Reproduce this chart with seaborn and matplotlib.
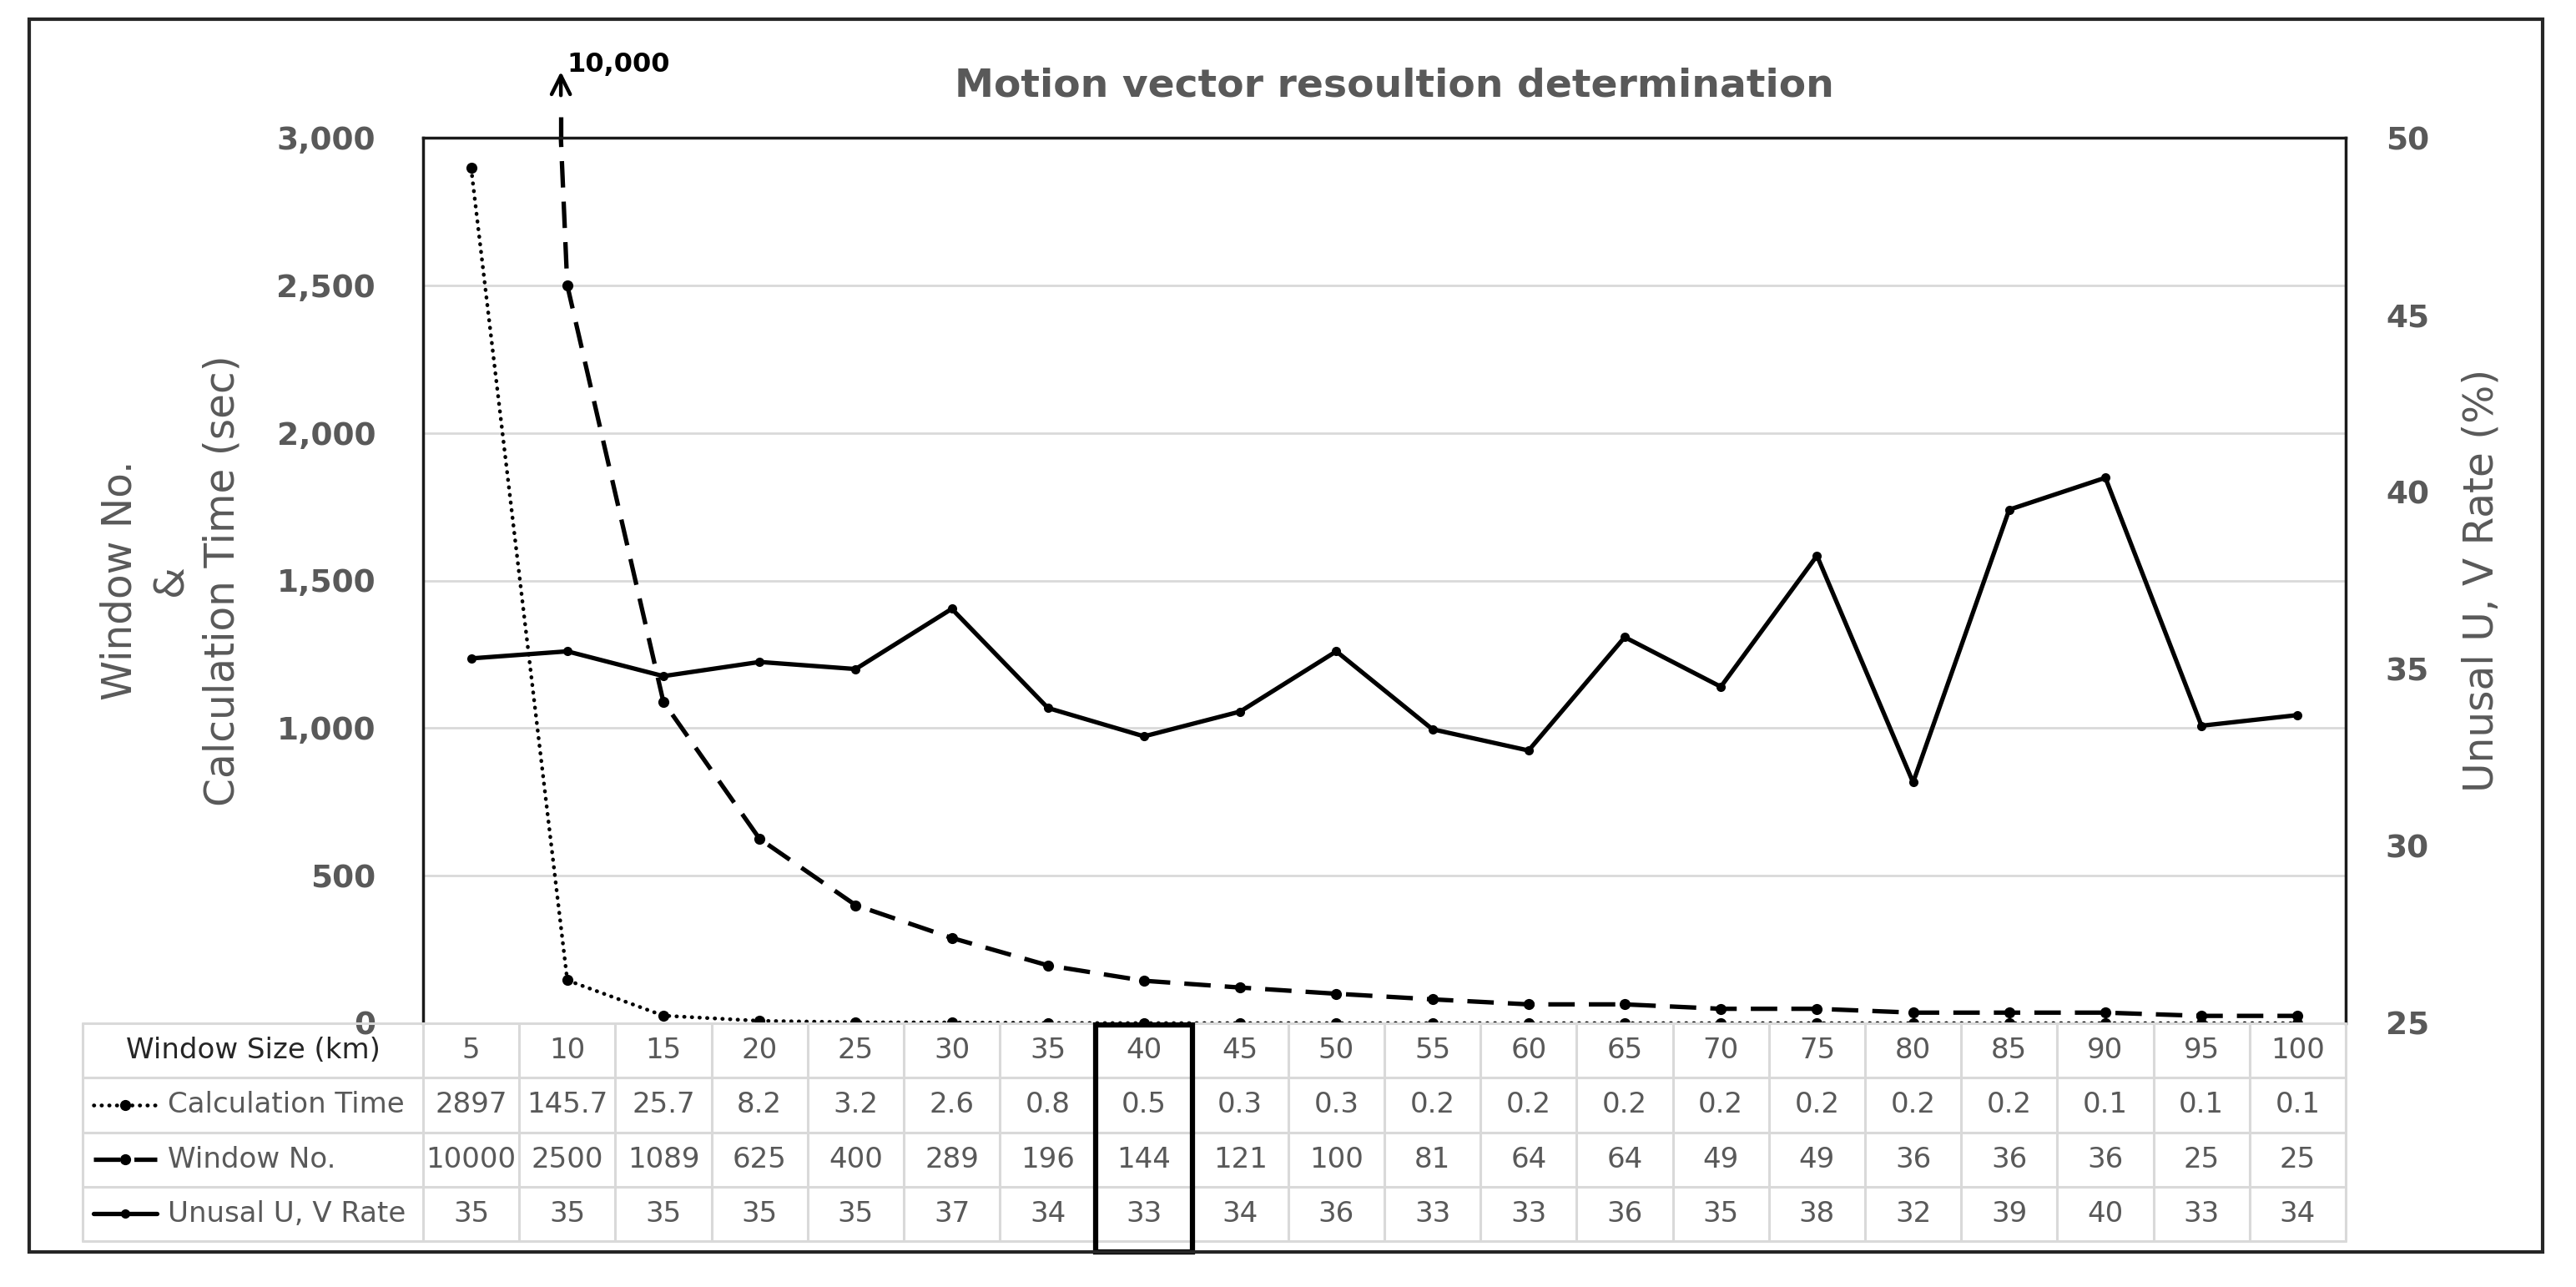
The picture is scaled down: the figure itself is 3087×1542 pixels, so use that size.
import numpy as np
import pandas as pd
import matplotlib
matplotlib.use("Agg")
import matplotlib.pyplot as plt
from matplotlib.patches import Rectangle
import seaborn as sns

# --- data ---
window_size = [5, 10, 15, 20, 25, 30, 35, 40, 45, 50, 55, 60, 65, 70, 75, 80, 85, 90, 95, 100]
calc_time = [2897, 145.7, 25.7, 8.2, 3.2, 2.6, 0.8, 0.5, 0.3, 0.3, 0.2, 0.2, 0.2, 0.2, 0.2, 0.2, 0.2, 0.1, 0.1, 0.1]
window_no = [10000, 2500, 1089, 625, 400, 289, 196, 144, 121, 100, 81, 64, 64, 49, 49, 36, 36, 36, 25, 25]
# unusual rate as drawn in the plot (the table shows it rounded)
unusual_rate = [35.3, 35.5, 34.8, 35.2, 35.0, 36.7, 33.9, 33.1, 33.8, 35.5,
                33.3, 32.7, 35.9, 34.5, 38.2, 31.8, 39.5, 40.4, 33.4, 33.7]
rate_table = [35, 35, 35, 35, 35, 37, 34, 33, 34, 36, 33, 33, 36, 35, 38, 32, 39, 40, 33, 34]
left_ticks = [0, 500, 1000, 1500, 2000, 2500, 3000]
right_ticks = [25, 30, 35, 40, 45, 50]
row_names = ["Window Size (km)", "Calculation Time", "Window No.", "Unusal U, V Rate"]
selected_size = 40

# --- style ---
sns.set_theme(style="white")
plt.rcParams["font.family"] = ["DejaVu Sans"]
GRAY = "#595959"
GRID = "#d9d9d9"
W, H = 3087, 1542
PLOT_L, PLOT_R, PLOT_T, PLOT_B = 507, 2811, 165, 1226
TAB_L, TAB_B = 99, 1487
PX_PER_UNIT = (PLOT_R - PLOT_L) / 100  # x units are km


def fx(px):
    return px / W


def fy(py):
    return 1 - py / H


calc_style = dict(color="black", linewidth=3.3, linestyle=(0, (0.1, 1.9)),
                  dash_capstyle="round", marker="o", markersize=9.5, markeredgewidth=0)
win_style = dict(color="black", linewidth=3.8, linestyle=(0, (6.0, 3.2)),
                 marker="o", markersize=9.5, markeredgewidth=0)
rate_style = dict(color="black", linewidth=3.8, linestyle="-",
                  marker="o", markersize=8, markeredgewidth=0)

df = pd.DataFrame({"size": window_size, "calc": calc_time,
                   "win": window_no, "rate": unusual_rate})

fig = plt.figure(figsize=(W / 100, H / 100), dpi=100)
fig.patch.set_facecolor("white")

# --- main plot area ---
ax = fig.add_axes([fx(PLOT_L), fy(PLOT_B), fx(PLOT_R) - fx(PLOT_L), fy(PLOT_T) - fy(PLOT_B)])
sns.lineplot(data=df, x="size", y="calc", ax=ax, **calc_style)
sns.lineplot(data=df, x="size", y="win", ax=ax, **win_style)
ax.set_xlim(2.5, 102.5)
ax.set_ylim(left_ticks[0], left_ticks[-1])
ax.set_yticks(left_ticks)
ax.set_yticklabels([f"{t:,}" for t in left_ticks])
ax.set_xticks([])
ax.set_xlabel("")
ax.grid(axis="y", color=GRID, lw=2)
ax.set_axisbelow(True)
ax.tick_params(axis="y", length=0, pad=41, labelsize=27, labelcolor=GRAY)
for lab in ax.get_yticklabels():
    lab.set_fontweight("bold")
for s in ["top", "left", "right"]:
    ax.spines[s].set_color("#1a1a1a")
    ax.spines[s].set_linewidth(2.5)
ax.spines["bottom"].set_color(GRID)

ax2 = ax.twinx()
sns.lineplot(data=df, x="size", y="rate", ax=ax2, **rate_style)
ax2.set_ylim(right_ticks[0], right_ticks[-1])
ax2.set_yticks(right_ticks)
ax2.set_xticks([])
ax2.set_xlabel("")
ax2.grid(False)
ax2.tick_params(axis="y", length=0, pad=34.5, labelsize=27, labelcolor=GRAY)
for lab in ax2.get_yticklabels():
    lab.set_fontweight("bold")
for s in ax2.spines.values():
    s.set_visible(False)

# off-scale first Window No. value: arrow + label above the plot
top = left_ticks[-1]
cross_x = window_size[1] - (window_size[1] - window_size[0]) * (top - window_no[1]) / (window_no[0] - window_no[1])
per_px = (left_ticks[-1] - left_ticks[0]) / (PLOT_B - PLOT_T)
ax.plot([cross_x, cross_x], [top, top + 25 * per_px], color="black", lw=3.8,
        linestyle=(0, (6.0, 3.2)), clip_on=False)
ax.annotate("", xy=(cross_x, top + 82 * per_px), xytext=(cross_x, top + 48 * per_px),
            arrowprops=dict(arrowstyle="->", color="black", lw=3.2, mutation_scale=40),
            annotation_clip=False)
ax.text(cross_x + 0.3, top + 88 * per_px, f"{window_no[0]:,}", fontsize=23,
        fontweight="bold", color="black", ha="left", va="center", clip_on=False)

# titles / axis labels
ax.set_title("Motion vector resoultion determination", x=0.505,
             y=(PLOT_B - 103) / (PLOT_B - PLOT_T), va="center", pad=0,
             fontsize=34, fontweight="bold", color=GRAY)
ax.set_ylabel("Window No.\n&\nCalculation Time (sec)", fontsize=35, color=GRAY, linespacing=1.36)
ax.yaxis.set_label_coords((205 - PLOT_L) / (PLOT_R - PLOT_L), 0.5)
ax.yaxis.label.set_va("center")
ax2.set_ylabel("Unusal U, V Rate (%)", fontsize=35, color=GRAY)
ax2.yaxis.set_label_coords((2973 - PLOT_L) / (PLOT_R - PLOT_L), 0.5)
ax2.yaxis.label.set_va("center")
ax2.yaxis.label.set_rotation(90)

# --- data table below the plot ---
x_left = 2.5 - (PLOT_L - TAB_L) / PX_PER_UNIT
tab = fig.add_axes([fx(TAB_L), fy(TAB_B), fx(PLOT_R) - fx(TAB_L), fy(PLOT_B) - fy(TAB_B)])
tab.set_xlim(x_left, 102.5)
tab.set_ylim(4, 0)
tab.axis("off")
for r in range(5):
    tab.plot([x_left, 102.5], [r, r], color=GRID, lw=2.2, clip_on=False)
col_edges = [x_left] + [s - 2.5 for s in window_size] + [window_size[-1] + 2.5]
for xe in col_edges:
    tab.plot([xe, xe], [0, 4], color=GRID, lw=2.2, clip_on=False)

rows = [
    [str(s) for s in window_size],
    [f"{v:g}" for v in calc_time],
    [str(v) for v in window_no],
    [str(v) for v in rate_table],
]
for r, vals in enumerate(rows):
    for s, v in zip(window_size, vals):
        tab.text(s, r + 0.5, v, ha="center", va="center", fontsize=24.5, color=GRAY)

tab.text((x_left + 2.5) / 2, 0.5, row_names[0], ha="center", va="center",
         fontsize=24.5, color="#262626")
key_x0 = x_left + (112 - TAB_L) / PX_PER_UNIT
key_x1 = x_left + (188 - TAB_L) / PX_PER_UNIT
text_x = x_left + (201 - TAB_L) / PX_PER_UNIT
line_keys = ("color", "linewidth", "linestyle", "dash_capstyle")
for r, style in zip([1, 2, 3], [calc_style, win_style, rate_style]):
    tab.plot([key_x0, key_x1], [r + 0.5, r + 0.5], **{k: v for k, v in style.items() if k in line_keys})
    tab.plot([(key_x0 + key_x1) / 2], [r + 0.5], marker="o", color="black",
             markersize=style["markersize"], markeredgewidth=0, linestyle="none")
    tab.text(text_x, r + 0.5, row_names[r], ha="left", va="center", fontsize=24.5, color=GRAY)

# highlighted column
tab.add_patch(Rectangle((selected_size - 2.5, 0.03), 5, 4.17, fill=False, ec="black",
                        lw=4.5, clip_on=False, zorder=5))

# outer chart frame
fig.add_artist(Rectangle((fx(35), fy(1500)), fx(3047) - fx(35), fy(23) - fy(1500),
                         transform=fig.transFigure, fill=False, ec="#262626", lw=3))

fig.savefig("out.png", dpi=100, facecolor="white")
